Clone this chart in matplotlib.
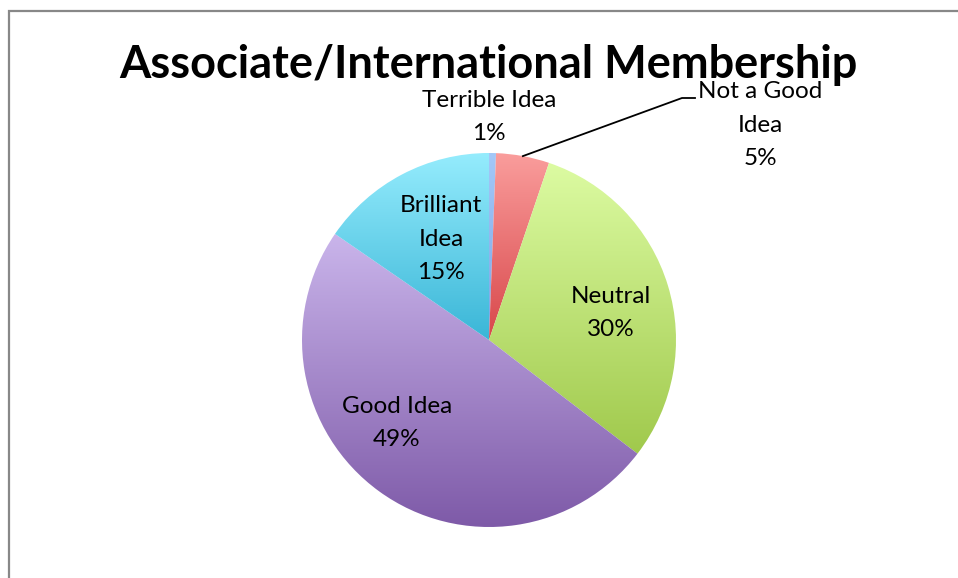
import numpy as np
import matplotlib
matplotlib.use("Agg")
import matplotlib.pyplot as plt
from matplotlib.colors import LinearSegmentedColormap

# data (clockwise from 12 o'clock)
categories = ["Terrible Idea", "Not a Good Idea", "Neutral", "Good Idea", "Brilliant Idea"]
shares = [0.6, 4.6, 30.2, 49.2, 15.4]
label_names = ["Terrible Idea", "Not a Good\nIdea", "Neutral", "Good Idea", "Brilliant\nIdea"]

# gradient colours (top, bottom) per slice
tops = ["#a4c8f8", "#fa9d9c", "#dcfba2", "#cab5eb", "#95ecfd"]
bottoms = ["#7aa6e6", "#d8474a", "#a0c94c", "#7e5aa8", "#3ab6d7"]

# label centres in pixel coords
label_pos = [(489, 117), (760, 125), (611, 313), (397, 423), (441, 239)]

W, H = 958, 578
fig = plt.figure(figsize=(W / 100, H / 100), dpi=100)
ax = fig.add_axes([0, 0, 1, 1])

cx, cy, r = 489, H - 340, 187

wedges, _ = ax.pie(shares, center=(cx, cy), radius=r, startangle=90,
                   counterclock=False, frame=True,
                   wedgeprops=dict(linewidth=0))

grad = np.linspace(1, 0, 256).reshape(-1, 1)
for w, c0, c1 in zip(wedges, tops, bottoms):
    w.set_facecolor("none")
    ext = w.get_path().get_extents()
    cmap = LinearSegmentedColormap.from_list("g", [c1, c0])
    im = ax.imshow(grad, cmap=cmap, aspect="auto", origin="upper",
                   extent=(ext.x0, ext.x1, ext.y0, ext.y1), zorder=1)
    im.set_clip_path(w)
ax.set_xlim(0, W)
ax.set_ylim(0, H)
ax.set_aspect("equal")
ax.axis("off")

fs = 17.5
lsp = 1.76
for i, (txt, (px, py)) in enumerate(zip(label_names, label_pos)):
    s = txt + "\n" + "%d%%" % round(shares[i])
    ax.text(px, H - py, s, ha="center", va="center", fontsize=fs,
            family="Lato", linespacing=lsp, zorder=5)

# leader line for the small slice
mid = 90 - 360 * (shares[0] + shares[1] / 2) / 100
sx = cx + r * np.cos(np.radians(mid))
sy = cy + r * np.sin(np.radians(mid))
ax.plot([sx, 682, 695], [sy, H - 98, H - 98], color="black", lw=1.3, zorder=6)

ax.text(488, H - 65, "Associate/International Membership", ha="center",
        va="center", fontsize=32.5, fontweight="bold", family="Lato")

# chart frame (cropped on right and bottom)
ax.plot([9, 9, W], [0, H - 11, H - 11], color="#888888", lw=1.6,
        solid_joinstyle="miter", zorder=6)

fig.savefig("out.png", dpi=100)
